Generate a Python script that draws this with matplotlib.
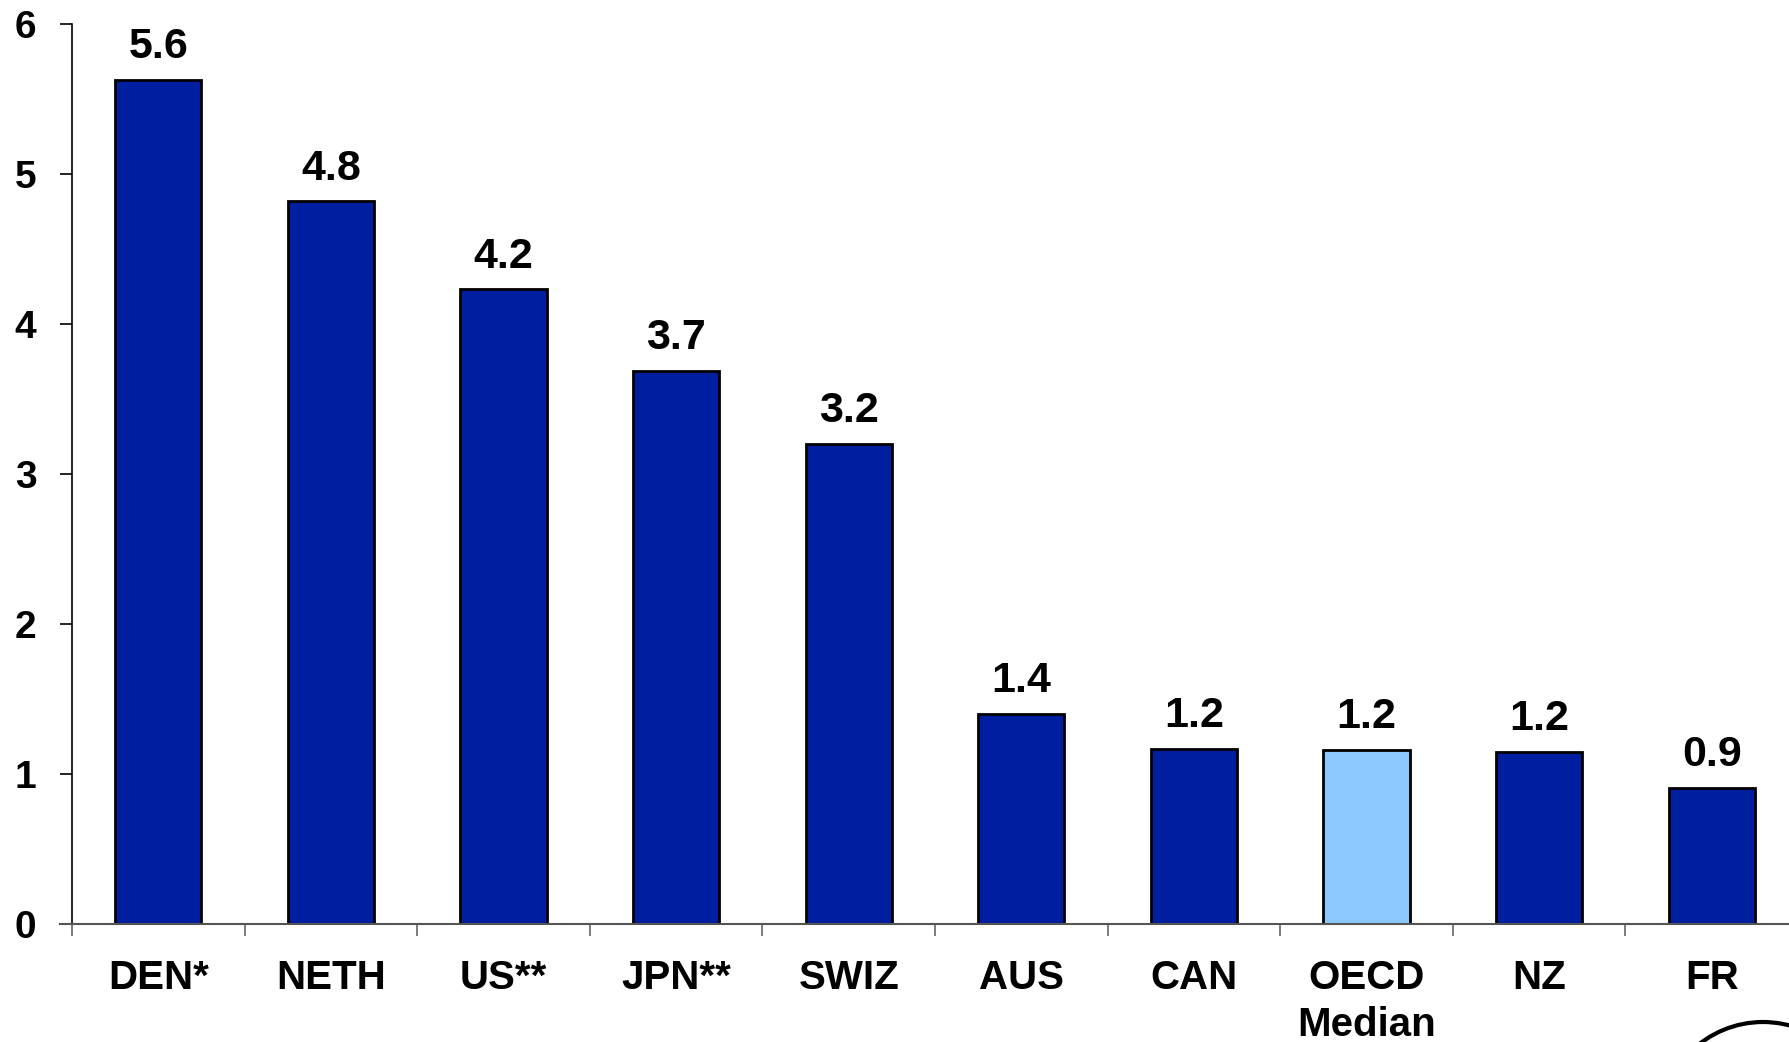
import matplotlib.pyplot as plt
from matplotlib.patches import Ellipse

plt.rcParams['font.family'] = ['Liberation Sans', 'DejaVu Sans']

categories = ['DEN*', 'NETH', 'US**', 'JPN**', 'SWIZ', 'AUS', 'CAN', 'OECD\nMedian', 'NZ', 'FR']
values = [5.63, 4.82, 4.23, 3.69, 3.2, 1.4, 1.17, 1.16, 1.15, 0.91]
value_labels = ['5.6', '4.8', '4.2', '3.7', '3.2', '1.4', '1.2', '1.2', '1.2', '0.9']
highlight = 'OECD\nMedian'

dark_blue = '#001EA0'
light_blue = '#8AC8FF'

fig = plt.figure(figsize=(17.9, 10.42), dpi=100)
# axes run slightly past the right edge, as in the original slide crop
ax = fig.add_axes([72 / 1790, 118 / 1042, 1726 / 1790, 900 / 1042])

colors = [light_blue if c == highlight else dark_blue for c in categories]
x = list(range(len(categories)))
bars = ax.bar(x, values, width=0.5, color=colors, edgecolor='black', linewidth=2)

for b, lab in zip(bars, value_labels):
    ax.annotate(lab, (b.get_x() + b.get_width() / 2, b.get_height()),
                xytext=(0, 9), textcoords='offset points',
                ha='center', va='bottom', fontsize=31, fontweight='bold')

ax.set_xlim(-0.5, len(categories) - 0.5)
ax.set_ylim(0, 6)
ax.set_yticks(range(7))
ax.tick_params(axis='y', direction='out', length=8.6, width=1.2, color='black',
               labelsize=28, pad=17)
for t in ax.get_yticklabels():
    t.set_fontweight('bold')

# category ticks sit between the bars
ax.set_xticks([i - 0.5 for i in x], minor=False)
ax.set_xticklabels([])
ax.set_xticks(x, minor=True)
ax.set_xticklabels(categories, minor=True, fontsize=29, fontweight='bold', linespacing=1.3)
ax.tick_params(axis='x', which='major', direction='out', length=8.6, width=1.2, color='#666666')
ax.tick_params(axis='x', which='minor', length=0, pad=25)

ax.spines['top'].set_visible(False)
ax.spines['right'].set_visible(False)
ax.spines['left'].set_color('black')
ax.spines['left'].set_linewidth(1.2)
ax.spines['bottom'].set_color('#555555')
ax.spines['bottom'].set_linewidth(1.5)
ax.spines['bottom'].set_bounds(-0.57, len(categories) - 0.5)
ax.spines['bottom'].set_clip_on(False)

# partial logo ring in the bottom right corner
ring = Ellipse((1763, 1042 - 1125), 206, 206, transform=None, fill=False,
               edgecolor='black', linewidth=3)
fig.patches.append(ring)

fig.savefig('out.png', dpi=100)
